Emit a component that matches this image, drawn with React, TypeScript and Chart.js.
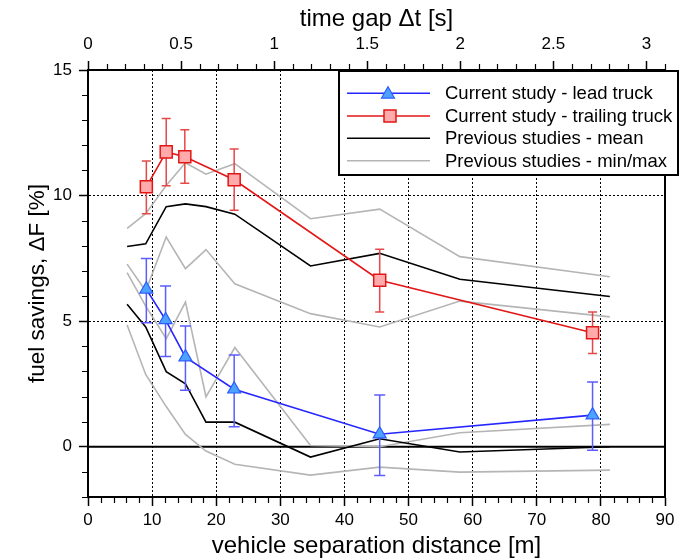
import React, { useEffect, useRef } from "react";
import { Chart, registerables } from "chart.js";
Chart.register(...registerables);

const FONT = "'Liberation Sans', Arial, Helvetica, sans-serif";

// ---- data ----
const leadX = [9.1, 12.1, 15.2, 22.8, 45.5, 78.7];
const leadY = [6.27, 5.05, 3.57, 2.29, 0.5, 1.26];
const leadUpper = [7.5, 6.4, 4.81, 3.65, 2.06, 2.58];
const leadLower = [4.94, 3.59, 2.25, 0.8, -1.14, -0.14];

const trailX = [9.1, 12.2, 15.1, 22.8, 45.5, 78.7];
const trailY = [10.35, 11.74, 11.55, 10.63, 6.63, 4.54];
const trailUpper = [11.38, 13.07, 12.62, 11.85, 7.86, 5.37];
const trailLower = [9.28, 10.39, 10.49, 9.42, 5.37, 3.71];

const prevX = [6.1, 9.0, 12.2, 15.2, 18.4, 22.9, 34.7, 45.5, 58, 81.4];
const prevMeanTrail = [7.97, 8.08, 9.56, 9.67, 9.56, 9.26, 7.2, 7.7, 6.67, 5.98];
const prevMeanLead = [5.67, 4.77, 2.99, 2.51, 0.98, 0.98, -0.41, 0.32, -0.21, 0.0];
const prevMaxTrail = [8.69, 9.28, 10.4, 11.31, 10.85, 11.27, 9.08, 9.46, 7.57, 6.77];
const prevMinTrail = [7.27, 6.2, 8.35, 7.09, 7.85, 6.49, 5.3, 4.77, 5.8, 5.17];
const prevMaxLead = [6.93, 5.6, 4.3, 5.76, 1.99, 3.95, 0.05, 0.0, 0.56, 0.89];
const prevMinLead = [4.85, 2.88, 1.6, 0.49, -0.17, -0.7, -1.13, -0.81, -1.01, -0.93];

const xTicks = [0, 10, 20, 30, 40, 50, 60, 70, 80, 90];
const x2Ticks = [0, 0.5, 1, 1.5, 2, 2.5, 3];
const yTicks = [0, 5, 10, 15];

const legendLabels = [
  "Current study - lead truck",
  "Current study - trailing truck",
  "Previous studies - mean",
  "Previous studies - min/max",
];

const BLUE = "#2626ff";
const BLUE_ERR = "#5c5cff";
const BLUE_FILL = "#4ea2ff";
const RED = "#e31616";
const RED_ERR = "#e64848";
const RED_FILL = "#ffabab";
const GRAY = "#b5b5b5";

const pts = (xs: number[], ys: number[]) => xs.map((x, i) => ({ x, y: ys[i] }));

function drawTriangle(ctx: CanvasRenderingContext2D, x: number, y: number, r: number) {
  ctx.beginPath();
  ctx.moveTo(x, y - r);
  ctx.lineTo(x + r * 0.866, y + r * 0.5);
  ctx.lineTo(x - r * 0.866, y + r * 0.5);
  ctx.closePath();
  ctx.fill();
  ctx.stroke();
}

export default function App() {
  const ref = useRef<HTMLCanvasElement>(null);
  useEffect(() => {
    document.body.style.margin = "0";
    const errBars = [
      { xs: leadX, up: leadUpper, lo: leadLower, color: BLUE_ERR, cap: 5.5 },
      { xs: trailX, up: trailUpper, lo: trailLower, color: RED_ERR, cap: 4.5 },
    ];
    const plugin = {
      id: "custom",
      beforeDatasetsDraw(chart: any) {
        const { ctx, chartArea, scales } = chart;
        const y0 = scales.y.getPixelForValue(0);
        ctx.save();
        ctx.strokeStyle = "#000";
        ctx.lineWidth = 2;
        ctx.beginPath();
        ctx.moveTo(chartArea.left, y0);
        ctx.lineTo(chartArea.right, y0);
        ctx.stroke();
        ctx.restore();
      },
      beforeDatasetDraw(chart: any, args: any) {
        const e = errBars[args.index];
        if (!e) return;
        const { ctx, scales } = chart;
        ctx.save();
        ctx.strokeStyle = e.color;
        ctx.lineWidth = 1.5;
        e.xs.forEach((xv, i) => {
          const px = scales.x.getPixelForValue(xv);
          const pu = scales.y.getPixelForValue(e.up[i]);
          const pl = scales.y.getPixelForValue(e.lo[i]);
          ctx.beginPath();
          ctx.moveTo(px, pu);
          ctx.lineTo(px, pl);
          ctx.moveTo(px - e.cap, pu);
          ctx.lineTo(px + e.cap, pu);
          ctx.moveTo(px - e.cap, pl);
          ctx.lineTo(px + e.cap, pl);
          ctx.stroke();
        });
        ctx.restore();
      },
      afterDraw(chart: any) {
        const { ctx, chartArea, scales } = chart;
        const { left, right, top, bottom } = chartArea;
        ctx.save();
        ctx.strokeStyle = "#000";
        ctx.lineWidth = 1.2;
        ctx.beginPath();
        for (let v = 0; v <= 90; v += 2) {
          if (v % 10 === 0) continue;
          const px = Math.round(scales.x.getPixelForValue(v)) + 0.5;
          ctx.moveTo(px, bottom);
          ctx.lineTo(px, bottom + 6);
        }
        for (let k = 0; k <= 31; k++) {
          if (k % 5 === 0) continue;
          const px = Math.round(scales.x2.getPixelForValue(k / 10)) + 0.5;
          ctx.moveTo(px, top);
          ctx.lineTo(px, top - 6);
        }
        for (let v = -2; v <= 15; v++) {
          if (v % 5 === 0) continue;
          const py = Math.round(scales.y.getPixelForValue(v)) + 0.5;
          ctx.moveTo(left, py);
          ctx.lineTo(left - 6, py);
        }
        ctx.stroke();
        // right border
        ctx.lineWidth = 2;
        ctx.beginPath();
        ctx.moveTo(right, top - 1);
        ctx.lineTo(right, bottom + 1);
        ctx.stroke();

        // legend
        const L = left + 251;
        const T = top + 1;
        const W = 339;
        const H = 104;
        ctx.fillStyle = "#fff";
        ctx.fillRect(L, T, W, H);
        ctx.lineWidth = 2;
        ctx.strokeStyle = "#000";
        ctx.strokeRect(L, T, W, H);
        const rowOff = [22.3, 45, 67.3, 89.7];
        const colors = [BLUE, RED, "#000", GRAY];
        ctx.font = `18.5px ${FONT}`;
        ctx.textBaseline = "middle";
        ctx.textAlign = "left";
        rowOff.forEach((o, i) => {
          const yy = T + o;
          ctx.strokeStyle = colors[i];
          ctx.lineWidth = 1.5;
          ctx.beginPath();
          ctx.moveTo(L + 8, yy);
          ctx.lineTo(L + 91, yy);
          ctx.stroke();
          if (i === 0) {
            ctx.fillStyle = BLUE_FILL;
            ctx.strokeStyle = "#2a5cff";
            ctx.lineWidth = 1.2;
            drawTriangle(ctx, L + 49, yy + 1, 7.5);
          } else if (i === 1) {
            ctx.fillStyle = RED_FILL;
            ctx.strokeStyle = RED;
            ctx.lineWidth = 1.5;
            ctx.fillRect(L + 45, yy - 6, 12, 12);
            ctx.strokeRect(L + 45, yy - 6, 12, 12);
          }
          ctx.fillStyle = "#000";
          ctx.fillText(legendLabels[i], L + 106, yy + 1);
        });
        ctx.restore();
      },
    };

    const grayDs = (ys: number[]) => ({
      data: pts(prevX, ys),
      borderColor: GRAY,
      borderWidth: 1.6,
      pointRadius: 0,
      tension: 0,
    });
    const blackDs = (ys: number[]) => ({
      data: pts(prevX, ys),
      borderColor: "#000",
      borderWidth: 1.6,
      pointRadius: 0,
      tension: 0,
    });

    const tickFont = { family: FONT, size: 17 };
    const chart = new Chart(ref.current!, {
      type: "line",
      data: {
        datasets: [
          {
            label: legendLabels[0],
            data: pts(leadX, leadY),
            borderColor: BLUE,
            borderWidth: 1.6,
            pointStyle: "triangle",
            pointRadius: 7.5,
            pointBackgroundColor: BLUE_FILL,
            pointBorderColor: "#2a5cff",
            pointBorderWidth: 1.2,
          },
          {
            label: legendLabels[1],
            data: pts(trailX, trailY),
            borderColor: RED,
            borderWidth: 1.6,
            pointStyle: "rect",
            pointRadius: 8.5,
            pointBackgroundColor: RED_FILL,
            pointBorderColor: RED,
            pointBorderWidth: 1.5,
          },
          blackDs(prevMeanTrail),
          blackDs(prevMeanLead),
          grayDs(prevMaxTrail),
          grayDs(prevMinTrail),
          grayDs(prevMaxLead),
          grayDs(prevMinLead),
        ] as any,
      },
      options: {
        animation: false,
        responsive: false,
        devicePixelRatio: 1,
        layout: { padding: { left: 0, right: 24, top: 0, bottom: 0 } },
        plugins: { legend: { display: false }, tooltip: { enabled: false } },
        scales: {
          x: {
            type: "linear",
            position: "bottom",
            min: 0,
            max: 90,
            afterBuildTicks: (s: any) => {
              s.ticks = xTicks.map((v) => ({ value: v }));
            },
            afterFit: (s: any) => {
              s.height = 62;
            },
            ticks: {
              font: tickFont,
              color: "#000",
              padding: 4,
              maxRotation: 0,
              autoSkip: false,
              callback: (v: any) => String(v),
            },
            grid: {
              color: (c: any) =>
                c.tick && (c.tick.value === 0 || c.tick.value === 90) ? "rgba(0,0,0,0)" : "#000",
              lineWidth: 1,
              tickLength: 9,
              tickColor: "#000",
              tickWidth: 1.5,
            },
            border: { display: true, color: "#000", width: 2, dash: [2, 2] },
            title: {
              display: true,
              text: "vehicle separation distance [m]",
              color: "#000",
              font: { family: FONT, size: 24, lineHeight: 1 },
              padding: { top: 0, bottom: 1 },
            },
          },
          x2: {
            type: "linear",
            position: "top",
            min: 0,
            max: 3.1,
            afterBuildTicks: (s: any) => {
              s.ticks = x2Ticks.map((v) => ({ value: v }));
            },
            afterFit: (s: any) => {
              s.height = 70;
            },
            ticks: {
              font: tickFont,
              color: "#000",
              padding: 6,
              maxRotation: 0,
              autoSkip: false,
              callback: (v: any) => String(v),
            },
            grid: {
              drawOnChartArea: false,
              tickLength: 9,
              tickColor: "#000",
              tickWidth: 1.5,
            },
            border: { display: true, color: "#000", width: 2 },
            title: {
              display: true,
              text: "time gap \u0394t [s]",
              color: "#000",
              font: { family: FONT, size: 24, lineHeight: 1 },
              padding: { top: 7, bottom: 0 },
            },
          },
          y: {
            type: "linear",
            position: "left",
            min: -2,
            max: 15,
            afterBuildTicks: (s: any) => {
              s.ticks = yTicks.map((v) => ({ value: v }));
            },
            afterFit: (s: any) => {
              s.width = 88;
            },
            ticks: {
              font: tickFont,
              color: "#000",
              padding: 7,
              callback: (v: any) => String(v),
            },
            grid: {
              color: (c: any) =>
                c.tick && (c.tick.value === 5 || c.tick.value === 10) ? "#000" : "rgba(0,0,0,0)",
              lineWidth: 1,
              tickLength: 9,
              tickColor: "#000",
              tickWidth: 1.5,
            },
            border: { display: true, color: "#000", width: 2, dash: [2, 2] },
            title: {
              display: true,
              text: "fuel savings, \u0394F [%]",
              color: "#000",
              font: { family: FONT, size: 22.5, lineHeight: 1 },
              padding: { top: 27, bottom: 0 },
            },
          },
        },
      } as any,
      plugins: [plugin],
    });
    return () => chart.destroy();
  }, []);
  return (
    <div style={{ width: 689, height: 559 }}>
      <canvas ref={ref} width={689} height={559} style={{ display: "block" }} />
    </div>
  );
}
